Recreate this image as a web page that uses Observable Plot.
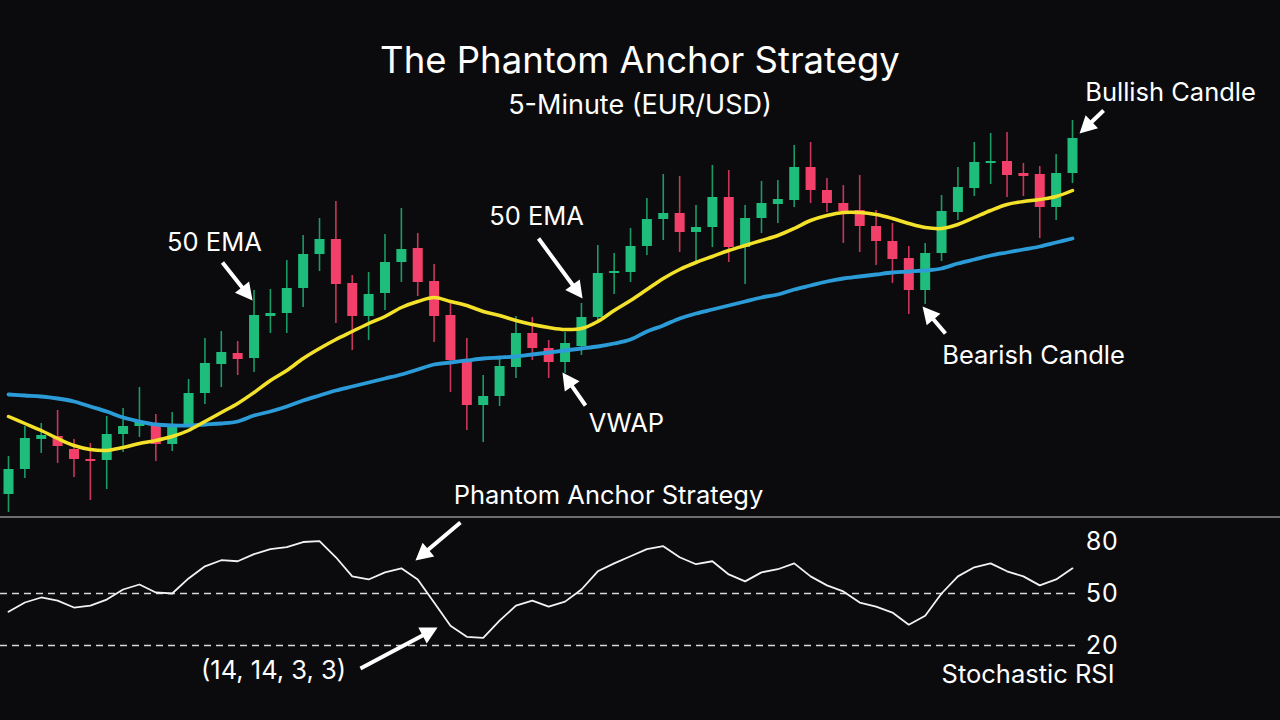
<!DOCTYPE html>
<html>
<head>
<meta charset="utf-8">
<script src="https://cdn.jsdelivr.net/npm/d3@7"></script>
<script src="https://cdn.jsdelivr.net/npm/@observablehq/plot@0.6"></script>
<style>
  html, body { margin: 0; padding: 0; background: #0b0b0d; width: 1280px; height: 720px; overflow: hidden; }
  #wrap { position: relative; width: 1280px; height: 720px; font-family: Inter, "Noto Sans", sans-serif; }
  .ttl { position: absolute; left: 0; width: 1280px; text-align: center; color: #ffffff; line-height: 1; white-space: nowrap; }
  #t1 { top: 42px; font-size: 36.5px; font-weight: 400; }
  #t2 { top: 91px; font-size: 27px; font-weight: 400; }
  #price { position: absolute; left: 0; top: 0; }
  #stoch { position: absolute; left: 0; top: 470px; }
  #sep { position: absolute; left: 0; top: 516px; width: 1280px; height: 1.5px; background: #6e6e6e; }
</style>
</head>
<body>
<div id="wrap">
  <div id="price"></div>
  <div id="stoch"></div>
  <div id="sep"></div>
  <div class="ttl" id="t1">The Phantom Anchor Strategy</div>
  <div class="ttl" id="t2">5-Minute (EUR/USD)</div>
</div>
<script>
// ---------- DATA ----------
const open = [1.08130,1.08255,1.08405,1.08420,1.08355,1.08305,1.08300,1.08430,1.08470,1.08485,
  1.08380,1.08480,1.08635,1.08780,1.08835,1.08810,1.09020,1.09035,1.09160,1.09330,
  1.09405,1.09185,1.09020,1.09135,1.09290,1.09360,1.09195,1.09025,1.08795,1.08575,
  1.08620,1.08765,1.08935,1.08860,1.08790,1.08870,1.09015,1.09235,1.09240,1.09370,
  1.09505,1.09535,1.09440,1.09465,1.09615,1.09365,1.09510,1.09580,1.09600,1.09765,
  1.09650,1.09585,1.09550,1.09470,1.09395,1.09310,1.09150,1.09335,1.09540,1.09660,
  1.09785,1.09795,1.09735,1.09730,1.09565,1.09735];
const high = [1.08320,1.08470,1.08485,1.08550,1.08405,1.08385,1.08520,1.08560,1.08665,1.08530,
  1.08540,1.08705,1.08910,1.08945,1.08895,1.09150,1.09155,1.09300,1.09425,1.09510,
  1.09595,1.09225,1.09240,1.09430,1.09560,1.09435,1.09280,1.09090,1.08910,1.08725,
  1.08810,1.09020,1.09015,1.08900,1.08940,1.09085,1.09375,1.09335,1.09460,1.09610,
  1.09730,1.09720,1.09575,1.09775,1.09750,1.09575,1.09695,1.09700,1.09875,1.09890,
  1.09710,1.09675,1.09725,1.09550,1.09485,1.09370,1.09385,1.09625,1.09765,1.09890,
  1.09935,1.09940,1.09785,1.09770,1.09830,1.10000];
const low = [1.08040,1.08210,1.08335,1.08285,1.08215,1.08100,1.08155,1.08340,1.08415,1.08295,
  1.08345,1.08465,1.08580,1.08665,1.08725,1.08740,1.08935,1.08935,1.09065,1.09245,
  1.08985,1.08850,1.08900,1.09050,1.09190,1.09120,1.08890,1.08640,1.08450,1.08390,
  1.08570,1.08710,1.08800,1.08710,1.08735,1.08825,1.08985,1.09130,1.09190,1.09325,
  1.09400,1.09340,1.09285,1.09365,1.09290,1.09180,1.09435,1.09485,1.09565,1.09585,
  1.09540,1.09385,1.09340,1.09275,1.09185,1.09030,1.09080,1.09295,1.09500,1.09620,
  1.09680,1.09615,1.09620,1.09410,1.09500,1.09685];
const close = [1.08255,1.08410,1.08425,1.08370,1.08305,1.08295,1.08430,1.08470,1.08490,1.08380,
  1.08480,1.08635,1.08785,1.08840,1.08805,1.09025,1.09035,1.09160,1.09330,1.09405,
  1.09180,1.09020,1.09130,1.09290,1.09355,1.09190,1.09020,1.08800,1.08575,1.08620,
  1.08770,1.08935,1.08860,1.08790,1.08885,1.09015,1.09235,1.09245,1.09370,1.09505,
  1.09535,1.09440,1.09465,1.09615,1.09365,1.09510,1.09585,1.09605,1.09765,1.09650,
  1.09585,1.09545,1.09470,1.09395,1.09305,1.09150,1.09335,1.09545,1.09665,1.09790,
  1.09795,1.09725,1.09720,1.09565,1.09735,1.09910];
const ema50 = [1.08520,1.08485,1.08450,1.08410,1.08375,1.08355,1.08350,1.08365,1.08385,1.08400,
  1.08420,1.08450,1.08495,1.08540,1.08585,1.08640,1.08700,1.08750,1.08810,1.08860,
  1.08905,1.08945,1.08985,1.09020,1.09065,1.09095,1.09115,1.09095,1.09075,1.09045,
  1.09025,1.09000,1.08980,1.08965,1.08955,1.08960,1.08995,1.09050,1.09100,1.09155,
  1.09210,1.09255,1.09290,1.09320,1.09350,1.09375,1.09400,1.09425,1.09460,1.09500,
  1.09525,1.09540,1.09540,1.09530,1.09510,1.09485,1.09465,1.09460,1.09480,1.09515,
  1.09550,1.09580,1.09595,1.09605,1.09620,1.09650];
const vwap = [1.08630,1.08625,1.08620,1.08610,1.08595,1.08570,1.08545,1.08515,1.08495,1.08480,
  1.08475,1.08475,1.08480,1.08485,1.08495,1.08525,1.08545,1.08570,1.08600,1.08625,
  1.08650,1.08670,1.08690,1.08710,1.08730,1.08755,1.08780,1.08790,1.08800,1.08810,
  1.08815,1.08820,1.08830,1.08840,1.08850,1.08860,1.08870,1.08885,1.08905,1.08945,
  1.08975,1.09010,1.09035,1.09055,1.09075,1.09095,1.09115,1.09130,1.09155,1.09175,
  1.09195,1.09210,1.09220,1.09230,1.09240,1.09245,1.09250,1.09260,1.09285,1.09305,
  1.09325,1.09340,1.09355,1.09370,1.09390,1.09410];
const stochRsi = [39.5,44.8,47.7,45.9,41.9,43.0,46.5,52.3,55.2,50.6,
  50.0,58.7,65.7,69.2,68.6,72.7,75.6,76.7,79.7,80.2,
  70.9,59.9,58.1,62.2,64.5,58.1,44.8,31.4,25.0,24.4,
  34.3,43.0,45.9,42.4,45.3,52.3,62.8,67.4,71.5,75.6,
  77.3,70.9,66.9,68.6,61.0,57.0,62.2,64.0,67.4,59.9,
  54.7,51.2,44.8,42.4,39.0,32.0,37.2,50.0,59.9,65.1,
  67.4,62.8,59.9,54.7,58.1,64.5];
const stochTicks = [80, 50, 20];
const stochLevels = [50, 20];

// annotations (bar index, price)
const priceNoteText = ["50 EMA", "50 EMA", "VWAP", "Bullish Candle", "Bearish Candle"];
const priceNoteX = [12.58, 32.26, 37.75, 70.99, 62.62];
const priceNoteY = [1.09390, 1.09520, 1.08485, 1.10140, 1.08825];
const priceArrowFromX = [13.07, 32.38, 35.25, 66.90, 57.24];
const priceArrowFromY = [1.09290, 1.09410, 1.08575, 1.10050, 1.08935];
const priceArrowToX = [14.91, 35.07, 33.84, 65.43, 55.84];
const priceArrowToY = [1.09100, 1.09110, 1.08740, 1.09935, 1.09070];

// annotations (bar index, stochastic value)
const stochNoteText = ["Phantom Anchor Strategy", "(14, 14, 3, 3)"];
const stochNoteX = [36.65, 16.19];
const stochNoteY = [106.5, 5.6];
const stochArrowFromX = [27.61, 21.50];
const stochArrowFromY = [91.0, 6.7];
const stochArrowToX = [24.86, 26.21];
const stochArrowToY = [69.0, 30.4];
const stochLabel = ["Stochastic RSI"];
const stochLabelX = [67.57];
const stochLabelY = [3.3];

// ---------- STYLE ----------
const GREEN = "#1fbd7c", RED = "#f2406a", GREEN_W = "#1a9a66", RED_W = "#c8365a";
const YELLOW = "#f4e22a", BLUE = "#2b9cd8";
const FONT = "Inter, 'Noto Sans', sans-serif";
const NOTE_SIZE = 25.5;

const idx = d3.range(open.length);
const candles = idx.map(i => ({i, o: open[i], h: high[i], l: low[i], c: close[i]}));
const bull = d => d.c >= d.o;
const bear = d => d.c < d.o;

const xOpts = {domain: [0, open.length - 1], range: [8, 1072]};
const priceYOpts = {domain: [1.08, 1.10], range: [520, 120]};
const stochYOpts = {domain: [20, 80], range: [175, 71]};

const sx = Plot.scale({x: xOpts});

function arrowRows(fx, fy, tx, ty, yOpts) {
  const sy = Plot.scale({y: yOpts});
  return fx.map((_, k) => {
    const x0 = sx.apply(fx[k]), y0 = sy.apply(fy[k]);
    const x1 = sx.apply(tx[k]), y1 = sy.apply(ty[k]);
    return {x: tx[k], y: ty[k], len: Math.hypot(x1 - x0, y1 - y0),
            rot: Math.atan2(x1 - x0, -(y1 - y0)) * 180 / Math.PI};
  });
}

const arrowShape = {
  draw(context, l) {
    const h = 17, w = 9, s = 2;
    context.moveTo(-s, 0);
    context.lineTo(-s, -l + h);
    context.lineTo(-w, -l + h);
    context.lineTo(0, -l);
    context.lineTo(w, -l + h);
    context.lineTo(s, -l + h);
    context.lineTo(s, 0);
    context.closePath();
  }
};

const priceArrows = arrowRows(priceArrowFromX, priceArrowFromY, priceArrowToX, priceArrowToY, priceYOpts);
const stochArrows = arrowRows(stochArrowFromX, stochArrowFromY, stochArrowToX, stochArrowToY, stochYOpts);

const pricePlot = Plot.plot({
  width: 1280, height: 520,
  marginTop: 0, marginBottom: 0, marginLeft: 0, marginRight: 0,
  style: {background: "transparent", color: "white", fontFamily: FONT, overflow: "visible"},
  x: {...xOpts, axis: null},
  y: {...priceYOpts, axis: null},
  length: {domain: [0, 1000], range: [0, 1000]},
  marks: [
    Plot.ruleX(candles, {filter: bull, x: "i", y1: "l", y2: "h", stroke: GREEN_W, strokeWidth: 1.6}),
    Plot.ruleX(candles, {filter: bear, x: "i", y1: "l", y2: "h", stroke: RED_W, strokeWidth: 1.6}),
    Plot.ruleX(candles, {filter: bull, x: "i", y1: "o", y2: "c", stroke: GREEN, strokeWidth: 10, strokeLinecap: "butt"}),
    Plot.ruleX(candles, {filter: bear, x: "i", y1: "o", y2: "c", stroke: RED, strokeWidth: 10, strokeLinecap: "butt"}),
    Plot.line(idx, {x: i => i, y: i => vwap[i], stroke: BLUE, strokeWidth: 3.8, curve: "catmull-rom"}),
    Plot.line(idx, {x: i => i, y: i => ema50[i], stroke: YELLOW, strokeWidth: 3.5, curve: "catmull-rom"}),
    Plot.vector(priceArrows, {x: "x", y: "y", length: "len", rotate: "rot", shape: arrowShape, anchor: "end", fill: "white", stroke: "none"}),
    Plot.text(priceNoteText, {x: (d, k) => priceNoteX[k], y: (d, k) => priceNoteY[k], text: d => d,
      fill: "white", fontSize: NOTE_SIZE, fontFamily: FONT, textAnchor: "middle", lineAnchor: "middle"})
  ]
});
document.getElementById("price").appendChild(pricePlot);

const stochPlot = Plot.plot({
  width: 1280, height: 250,
  marginTop: 0, marginBottom: 0, marginLeft: 0, marginRight: 200,
  style: {background: "transparent", color: "white", fontFamily: FONT, overflow: "visible"},
  x: {...xOpts, axis: null},
  y: {...stochYOpts, label: null},
  length: {domain: [0, 1000], range: [0, 1000]},
  marks: [
    Plot.ruleY(stochLevels, {stroke: "#d8d8d8", strokeWidth: 1.6, strokeDasharray: "7,5"}),
    Plot.axisY({anchor: "right", ticks: stochTicks, label: null, tickSize: 0, tickPadding: 5, fontSize: 25, fill: "white", fontFamily: FONT}),
    Plot.line(idx, {x: i => i, y: i => stochRsi[i], stroke: "#f2f2f2", strokeWidth: 1.8}),
    Plot.vector(stochArrows, {x: "x", y: "y", length: "len", rotate: "rot", shape: arrowShape, anchor: "end", fill: "white", stroke: "none"}),
    Plot.text(stochNoteText, {x: (d, k) => stochNoteX[k], y: (d, k) => stochNoteY[k], text: d => d,
      fill: "white", fontSize: NOTE_SIZE, fontFamily: FONT, textAnchor: "middle", lineAnchor: "middle"}),
    Plot.text(stochLabel, {x: (d, k) => stochLabelX[k], y: (d, k) => stochLabelY[k], text: d => d,
      fill: "white", fontSize: NOTE_SIZE, fontFamily: FONT, textAnchor: "end", lineAnchor: "middle"})
  ]
});
document.getElementById("stoch").appendChild(stochPlot);
</script>
</body>
</html>
